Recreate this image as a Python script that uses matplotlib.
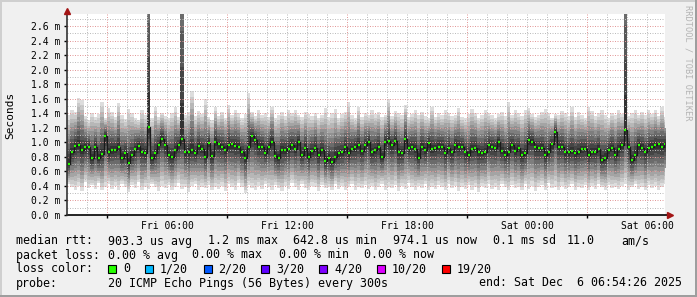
import numpy as np
import matplotlib.pyplot as plt
from matplotlib.patches import Rectangle

plt.rcParams['font.family'] = 'DejaVu Sans Mono'

# median rtt per 10 minute step (ms), starting Fri 01:00
median_ms = [
    0.70, 0.87, 0.95, 0.96, 0.89, 0.93, 0.94, 0.78, 0.93, 0.78, 0.84, 1.09, 0.86, 0.90, 0.90,
    0.94, 0.79, 0.85, 0.71, 0.82, 0.91, 0.95, 0.87, 0.85, 1.21, 0.78, 0.85, 0.96, 1.05, 0.96,
    0.83, 0.80, 0.89, 0.96, 1.04, 0.86, 0.87, 0.89, 0.85, 0.95, 0.91, 0.80, 0.99, 0.81, 1.01,
    0.97, 0.93, 0.90, 0.96, 0.97, 0.95, 0.94, 0.86, 0.78, 0.94, 1.08, 1.03, 0.94, 0.94, 0.85,
    0.93, 1.01, 0.81, 0.78, 0.89, 0.89, 0.91, 0.96, 0.91, 1.01, 0.83, 0.92, 0.80, 0.88, 0.92,
    0.82, 0.89, 0.74, 0.78, 0.73, 0.80, 0.85, 0.86, 0.93, 0.85, 0.91, 0.93, 0.96, 0.88, 0.96,
    1.01, 0.86, 0.89, 0.94, 0.80, 1.01, 1.02, 0.96, 1.02, 0.87, 0.85, 1.05, 0.92, 0.93, 0.91,
    0.79, 0.94, 0.89, 0.99, 0.91, 0.92, 0.94, 0.94, 0.85, 0.92, 0.86, 0.96, 0.93, 0.94, 0.86,
    0.82, 0.91, 0.92, 0.87, 0.85, 0.87, 0.96, 0.94, 0.92, 1.00, 0.88, 0.83, 0.86, 0.96, 0.88,
    0.92, 0.82, 0.85, 1.03, 1.01, 0.93, 0.92, 0.92, 0.82, 0.87, 0.97, 1.14, 0.94, 0.93, 0.86,
    0.86, 0.88, 0.85, 0.87, 0.91, 0.91, 0.83, 0.87, 0.87, 0.91, 0.76, 0.79, 0.89, 0.92, 0.83,
    0.91, 0.96, 1.17, 0.94, 0.76, 0.83, 0.96, 0.92, 0.86, 0.92, 0.94, 0.96, 0.97, 0.93, 0.97,
]

# slowest ping of each step (ms); 6.0 = off the chart
max_ms = [
    1.38, 1.44, 1.42, 1.61, 1.58, 1.36, 1.30, 1.41, 1.35, 1.39, 1.56, 1.33, 1.47, 1.42, 1.35,
    1.54, 1.38, 1.32, 1.46, 1.40, 1.34, 1.31, 1.44, 1.37, 6.00, 1.33, 1.49, 1.35, 1.41, 1.36,
    1.34, 1.40, 1.48, 1.35, 6.00, 1.38, 1.42, 1.70, 1.36, 1.43, 1.39, 1.60, 1.35, 1.31, 1.48,
    1.36, 1.42, 1.34, 1.51, 1.38, 1.45, 1.40, 1.33, 1.39, 1.68, 1.42, 1.36, 1.44, 1.38, 1.41,
    1.35, 1.49, 1.33, 1.37, 1.42, 1.36, 1.44, 1.40, 1.45, 1.38, 1.35, 1.42, 1.39, 1.36, 1.41,
    1.34, 1.38, 1.47, 1.35, 1.40, 1.46, 1.33, 1.39, 1.42, 1.56, 1.37, 1.34, 1.48, 1.35, 1.40,
    1.37, 1.44, 1.39, 1.42, 1.35, 1.38, 1.60, 1.36, 1.43, 1.40, 1.37, 1.51, 1.35, 1.39, 1.44,
    1.38, 1.42, 1.36, 1.33, 1.49, 1.35, 1.40, 1.37, 1.44, 1.41, 1.36, 1.38, 1.47, 1.35, 1.33,
    1.39, 1.46, 1.41, 1.34, 1.38, 1.45, 1.40, 1.37, 1.33, 1.39, 1.42, 1.36, 1.56, 1.38, 1.45,
    1.40, 1.36, 1.44, 1.47, 1.39, 1.35, 1.38, 1.42, 1.46, 1.41, 1.34, 1.39, 1.37, 1.43, 1.40,
    1.36, 1.48, 1.35, 1.42, 1.37, 1.34, 1.49, 1.43, 1.36, 1.40, 1.45, 1.38, 1.33, 1.41, 1.37,
    1.44, 1.39, 6.00, 1.36, 1.40, 1.45, 1.38, 1.42, 1.37, 1.44, 1.39, 1.45, 1.36, 1.48, 1.35,
]

# fastest ping of each step (ms)
min_ms = [
    0.42, 0.38, 0.35, 0.40, 0.33, 0.45, 0.37, 0.41, 0.36, 0.44, 0.34, 0.39, 0.42, 0.36, 0.40,
    0.35, 0.43, 0.38, 0.32, 0.41, 0.37, 0.45, 0.34, 0.39, 0.36, 0.42, 0.38, 0.33, 0.40, 0.37,
    0.41, 0.35, 0.39, 0.44, 0.36, 0.38, 0.32, 0.40, 0.43, 0.35, 0.39, 0.37, 0.41, 0.34, 0.38,
    0.36, 0.40, 0.33, 0.42, 0.38, 0.35, 0.44, 0.39, 0.30, 0.41, 0.37, 0.34, 0.40, 0.36, 0.43,
    0.38, 0.35, 0.41, 0.37, 0.33, 0.40, 0.36, 0.44, 0.39, 0.34, 0.42, 0.37, 0.35, 0.40, 0.38,
    0.33, 0.41, 0.37, 0.39, 0.35, 0.43, 0.36, 0.40, 0.34, 0.38, 0.42, 0.35, 0.39, 0.37, 0.41,
    0.36, 0.40, 0.34, 0.38, 0.43, 0.35, 0.39, 0.37, 0.41, 0.33, 0.40, 0.36, 0.44, 0.38, 0.35,
    0.40, 0.37, 0.42, 0.34, 0.39, 0.36, 0.41, 0.38, 0.35, 0.43, 0.37, 0.40, 0.33, 0.39, 0.36,
    0.41, 0.35, 0.38, 0.32, 0.40, 0.37, 0.43, 0.36, 0.39, 0.34, 0.42, 0.38, 0.35, 0.41, 0.37,
    0.39, 0.34, 0.42, 0.36, 0.40, 0.33, 0.38, 0.41, 0.35, 0.44, 0.37, 0.39, 0.34, 0.40, 0.36,
    0.38, 0.42, 0.35, 0.39, 0.37, 0.41, 0.34, 0.40, 0.36, 0.43, 0.38, 0.35, 0.41, 0.37, 0.39,
    0.36, 0.40, 0.43, 0.35, 0.38, 0.42, 0.36, 0.39, 0.34, 0.41, 0.37, 0.40, 0.35, 0.38, 0.42,
]

x_label_hours = [6, 12, 18, 24, 30]
x_labels = ['Fri 06:00', 'Fri 12:00', 'Fri 18:00', 'Sat 00:00', 'Sat 06:00']
y_ticks = [0.0, 0.2, 0.4, 0.6, 0.8, 1.0, 1.2, 1.4, 1.6, 1.8, 2.0, 2.2, 2.4, 2.6]

loss_labels = ['0', '1/20', '2/20', '3/20', '4/20', '10/20', '19/20']
loss_colors = ['#26ff00', '#00b8ff', '#0059ff', '#5e00ff', '#7e00ff', '#dd00ff', '#ff0000']

W, H = 697, 297
fig = plt.figure(figsize=(W / 100, H / 100), dpi=100, facecolor='#f0f0f0')

def fx(px):
    return px / W

def fy(py):
    return 1 - py / H

# frame shading
fig.patches.append(Rectangle((0, fy(2)), 1, 2 / H, transform=fig.transFigure, color='#cfcfcf', lw=0))
fig.patches.append(Rectangle((0, 0), 2 / W, 1, transform=fig.transFigure, color='#cfcfcf', lw=0))
fig.patches.append(Rectangle((0, 0), 1, 2 / H, transform=fig.transFigure, color='#9e9e9e', lw=0))
fig.patches.append(Rectangle((1 - 2 / W, 0), 2 / W, 1, transform=fig.transFigure, color='#9e9e9e', lw=0))

ax = fig.add_axes([fx(67), fy(215), 598 / W, 201 / H])
ax.set_facecolor('white')

med = np.array(median_ms)
hi = np.array(max_ms)
lo = np.array(min_ms)
n = len(med)
t = 1.0 + np.arange(n + 1) / 6.0

# smoke: nested bands, light outside, dark near the median
shares = [1.0, 0.9, 0.8, 0.7, 0.6, 0.5, 0.4, 0.3, 0.2, 0.1]
greys = [221, 202, 183, 164, 145, 126, 107, 88, 69, 50]
for f, g in zip(shares, greys):
    top = med + (hi - med) * f
    bot = med - (med - lo) * f
    c = '#%02x%02x%02x' % (g, g, g)
    ax.fill_between(t, np.append(bot, bot[-1]), np.append(top, top[-1]),
                    step='post', color=c, lw=0, antialiased=False, zorder=1)

# grid, 1px dots
px = 0.72
for h in range(2, 31):
    col = '#e39a9a' if (h - 3) % 6 == 0 else '#bdbdbd'
    ax.axvline(h, color=col, lw=px, ls=(0, (1, 1.5)), zorder=3)
for k in range(1, 28):
    col = '#e39a9a' if k % 2 == 0 else '#bdbdbd'
    ax.axhline(k / 10, color=col, lw=px, ls=(0, (1, 1.5)), zorder=3)

# median
ax.step(t, np.append(med, med[-1]), where='post', color='#1a1a1a', lw=0.9, zorder=4)
ax.hlines(med, t[:-1] + 0.03, t[1:] - 0.03, color='#26ff00', lw=1.6, zorder=5)

ax.set_xlim(1.0, 30.9)
ax.set_ylim(0, 2.765)

for s in ax.spines.values():
    s.set_visible(False)
ax.plot([0, 1.006], [0, 0], transform=ax.transAxes, color='black', lw=1.2, clip_on=False, zorder=6)
ax.plot([0, 0], [0, 1.0], transform=ax.transAxes, color='#333333', lw=1.2, clip_on=False, zorder=6)
ax.plot([1.009], [0], marker='>', ms=4, color='#a31515', transform=ax.transAxes, clip_on=False, zorder=7)
ax.plot([0], [1.013], marker='^', ms=4, color='#a31515', transform=ax.transAxes, clip_on=False, zorder=7)

ax.set_yticks(y_ticks)
ax.set_yticklabels([f'{v:.1f} m' for v in y_ticks])
ax.tick_params(axis='y', length=2, width=1, pad=3, labelsize=7, colors='black')
ax.set_xticks([3, 9, 15, 21, 27])
ax.set_xticklabels([])
ax.set_xticks(x_label_hours, labels=x_labels, minor=True)
ax.tick_params(axis='x', which='major', length=2.5, width=1, direction='out')
ax.tick_params(axis='x', which='minor', length=0, pad=4, labelsize=7, colors='black')

fig.text(fx(10), fy(115), 'Seconds', rotation=90, ha='center', va='center', fontsize=8)
fig.text(fx(688), fy(5), 'RRDTOOL / TOBI OETIKER', rotation=270, ha='center', va='top',
         fontsize=6.2, color='#b4b4b4')

# legend
fs = 8.4
rows = [
    (241, [(16, 'median rtt:'), (107.6, '903.3 us avg'), (207.6, '1.2 ms max'),
           (293.3, '642.8 us min'), (392.9, '974.1 us now'), (493.3, '0.1 ms sd'),
           (566.7, '11.0'), (621.3, 'am/s')]),
    (255, [(16, 'packet loss:'), (107.6, '0.00 % avg'), (192.4, '0.00 % max'),
           (279, '0.00 % min'), (364.4, '0.00 % now')]),
    (269, [(16, 'loss color:')]),
    (283, [(16, 'probe:'), (107.6, '20 ICMP Echo Pings (56 Bytes) every 300s'),
           (478.7, 'end: Sat Dec  6 06:54:26 2025')]),
]
for y, items in rows:
    for x, s in items:
        fig.text(fx(x), fy(y), s, ha='left', va='center', fontsize=fs)

box_x = [108, 145, 203.5, 261, 319, 377, 442]
for bx, lab, col in zip(box_x, loss_labels, loss_colors):
    fig.patches.append(Rectangle((fx(bx), fy(273)), 8 / W, 8 / H, transform=fig.transFigure,
                                 facecolor=col, edgecolor='black', lw=0.8))
    fig.text(fx(bx + 15), fy(269), lab, ha='left', va='center', fontsize=fs)

fig.savefig('out.png', dpi=100, facecolor=fig.get_facecolor())
